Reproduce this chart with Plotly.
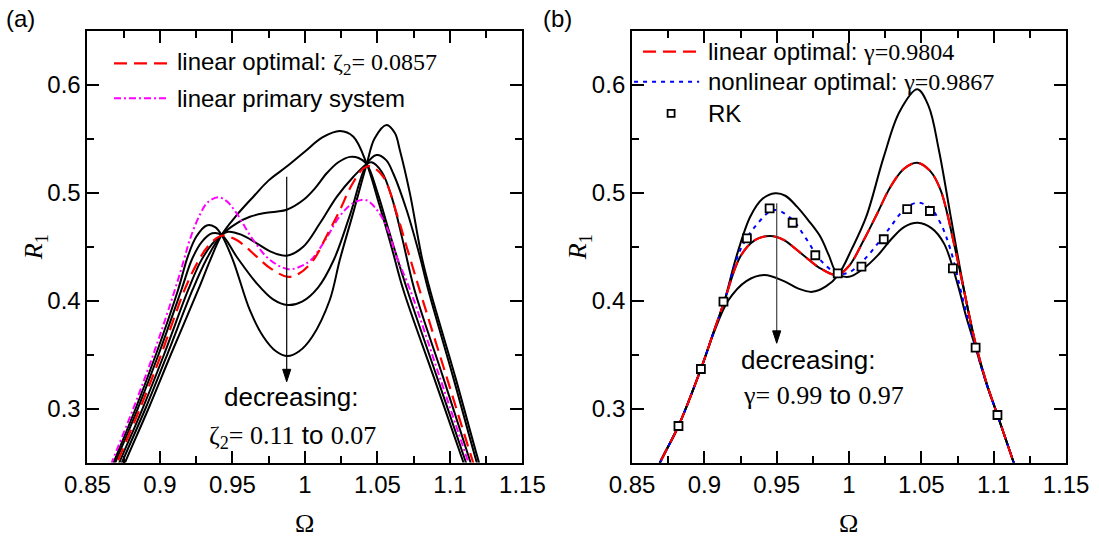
import plotly.graph_objects as go

# ---------------- panel (a): R1 vs Omega for several damping ratios ----------------
# zeta2 = 0.11
A1_X = [0.8714, 0.8759, 0.8921, 0.9075, 0.9264, 0.9345, 0.9425, 0.9529, 0.9650, 0.9748, 0.9874, 1.0000,
        1.0120, 1.0241, 1.0334, 1.0426, 1.0510, 1.0600, 1.0678, 1.0886, 1.1093, 1.1130]
A1_Y = [0.235, 0.250, 0.300, 0.350, 0.410, 0.437, 0.4607, 0.479, 0.497, 0.511, 0.524, 0.538,
        0.551, 0.557, 0.5517, 0.5264, 0.490, 0.448, 0.410, 0.330, 0.250, 0.235]
# zeta2 = 0.10
A2_X = [0.8693, 0.8738, 0.8900, 0.9050, 0.9225, 0.9320, 0.9425, 0.9529, 0.9620, 0.9713, 0.9800, 0.9874,
        0.9988, 1.0070, 1.0150, 1.0230, 1.0310, 1.0370, 1.0426, 1.0500, 1.0580, 1.0705, 1.0908, 1.1110, 1.1147]
A2_Y = [0.235, 0.250, 0.300, 0.350, 0.410, 0.438, 0.4607, 0.4715, 0.4775, 0.4807, 0.4822, 0.4840,
        0.4930, 0.5040, 0.5178, 0.5280, 0.5330, 0.5320, 0.5264, 0.5000, 0.4640, 0.410, 0.330, 0.250, 0.235]
# zeta2 = 0.09
A3_X = [0.8675, 0.8720, 0.8880, 0.9028, 0.9195, 0.9280, 0.9360, 0.9425, 0.9470, 0.9560, 0.9667, 0.9760,
        0.9874, 0.9988, 1.0103, 1.0219, 1.0334, 1.0426, 1.0460, 1.0530, 1.0600, 1.0670, 1.0755, 1.0950,
        1.1142, 1.1179]
A3_Y = [0.235, 0.250, 0.300, 0.350, 0.410, 0.436, 0.4525, 0.4607, 0.4637, 0.4610, 0.4530, 0.4455,
        0.4415, 0.4498, 0.4715, 0.4960, 0.5146, 0.5264, 0.5280, 0.5190, 0.4950, 0.4580, 0.410, 0.330,
        0.250, 0.235]
# zeta2 = 0.08
A4_X = [0.8647, 0.8692, 0.8847, 0.8990, 0.9148, 0.9220, 0.9290, 0.9360, 0.9425, 0.9529, 0.9667, 0.9780,
        0.9880, 0.9980, 1.0090, 1.0200, 1.0310, 1.0426, 1.0494, 1.0560, 1.0609, 1.0701, 1.0793, 1.0850,
        1.1020, 1.1185, 1.1220]
A4_Y = [0.235, 0.250, 0.300, 0.350, 0.410, 0.438, 0.4545, 0.4622, 0.4607, 0.4405, 0.4159, 0.4010,
        0.3958, 0.3990, 0.4120, 0.4380, 0.4790, 0.5264, 0.5347, 0.5300, 0.5176, 0.4838, 0.4406, 0.410,
        0.330, 0.250, 0.235]
# zeta2 = 0.07
A5_X = [0.8635, 0.8680, 0.8832, 0.8972, 0.9125, 0.9190, 0.9250, 0.9322, 0.9380, 0.9425, 0.9503, 0.9620,
        0.9713, 0.9800, 0.9880, 0.9960, 1.0050, 1.0171, 1.0240, 1.0330, 1.0426, 1.0480, 1.0563, 1.0620,
        1.0655, 1.0724, 1.0805, 1.0862, 1.1035, 1.1200, 1.1235]
A5_Y = [0.235, 0.250, 0.300, 0.350, 0.410, 0.440, 0.459, 0.4695, 0.468, 0.4607, 0.4375, 0.3910,
        0.3665, 0.3530, 0.3486, 0.3530, 0.3665, 0.4005, 0.4375, 0.4800, 0.5264, 0.5500, 0.5625, 0.5550,
        0.5390, 0.4990, 0.4406, 0.410, 0.330, 0.250, 0.235]
# linear optimal, zeta2 = 0.0857
A_OPT_X = [0.8660, 0.8705, 0.8862, 0.9008, 0.9170, 0.9250, 0.9330, 0.9425, 0.9529, 0.9667, 0.9760, 0.9880,
           0.9960, 1.0058, 1.0150, 1.0241, 1.0316, 1.0400, 1.0448, 1.0540, 1.0632, 1.0701, 1.0790, 1.0975,
           1.1160, 1.1197]
A_OPT_Y = [0.235, 0.250, 0.300, 0.350, 0.410, 0.433, 0.4500, 0.4600, 0.4560, 0.4406, 0.4300, 0.4220,
           0.4250, 0.4375, 0.4600, 0.4838, 0.5053, 0.5220, 0.5245, 0.5146, 0.4807, 0.4498, 0.410, 0.330,
           0.250, 0.235]
# linear primary system
A_LIN_X = [0.8622, 0.8667, 0.8816, 0.8954, 0.9103, 0.9165, 0.9205, 0.9270, 0.9330, 0.9402, 0.9460, 0.9529,
           0.9643, 0.9759, 0.9885, 0.9960, 1.0041, 1.0140, 1.0237, 1.0330, 1.0417, 1.0490, 1.0563, 1.0632,
           1.0725, 1.0927, 1.1127, 1.1164]
A_LIN_Y = [0.235, 0.250, 0.300, 0.350, 0.410, 0.4375, 0.4560, 0.4780, 0.4910, 0.4956, 0.4920, 0.4807,
           0.4560, 0.4375, 0.4290, 0.4310, 0.4375, 0.4560, 0.4776, 0.4900, 0.4931, 0.4850, 0.4683, 0.4406,
           0.410, 0.330, 0.250, 0.235]

# ---------------- panel (b): R1 vs Omega for several tuning ratios ----------------
# gamma = 0.99
B1_X = [0.8650, 0.8694, 0.8821, 0.8976, 0.9062, 0.9137, 0.9220, 0.9317, 0.9400, 0.9490, 0.9560, 0.9640,
        0.9720, 0.9802, 0.9860, 0.9917, 1.0000, 1.0102, 1.0200, 1.0287, 1.0380, 1.0476, 1.0570, 1.0656,
        1.0749, 1.0810, 1.0875, 1.0950, 1.1026, 1.1138, 1.1176]
B1_Y = [0.235, 0.250, 0.2838, 0.3366, 0.370, 0.3989, 0.440, 0.4776, 0.4940, 0.4993, 0.4970, 0.4869,
        0.4740, 0.4590, 0.4420, 0.4252, 0.4220, 0.4298, 0.4420, 0.4560, 0.4680, 0.4720, 0.4670, 0.4529,
        0.4159, 0.3850, 0.3563, 0.3230, 0.2940, 0.250, 0.235]
# gamma = 0.98
B2_X = [0.8650, 0.8694, 0.8821, 0.8976, 0.9062, 0.9137, 0.9248, 0.9350, 0.9456, 0.9550, 0.9640, 0.9720,
        0.9802, 0.9917, 1.0000, 1.0102, 1.0200, 1.0287, 1.0380, 1.0471, 1.0560, 1.0633, 1.0725, 1.0794,
        1.0875, 1.0950, 1.1026, 1.1138, 1.1176]
B2_Y = [0.235, 0.250, 0.2838, 0.3366, 0.370, 0.3989, 0.4406, 0.4560, 0.4597, 0.4560, 0.4468, 0.4380,
        0.4298, 0.4236, 0.4320, 0.4560, 0.4820, 0.5054, 0.5220, 0.5276, 0.5200, 0.5023, 0.4529, 0.4097,
        0.3600, 0.3240, 0.2940, 0.250, 0.235]
# gamma = 0.97
B3_X = [0.8650, 0.8694, 0.8821, 0.8976, 0.9065, 0.9165, 0.9290, 0.9414, 0.9550, 0.9650, 0.9745, 0.9840,
        0.9925, 1.0020, 1.0119, 1.0240, 1.0350, 1.0472, 1.0550, 1.0621, 1.0700, 1.0760, 1.0818, 1.0875,
        1.0950, 1.1026, 1.1138, 1.1176]
B3_Y = [0.235, 0.250, 0.2838, 0.3366, 0.370, 0.400, 0.4180, 0.4236, 0.4180, 0.4110, 0.4080, 0.4130,
        0.4236, 0.4480, 0.4776, 0.5330, 0.5750, 0.5955, 0.5800, 0.5394, 0.4800, 0.4350, 0.3943, 0.3590,
        0.3230, 0.2940, 0.250, 0.235]
# linear optimal, gamma = 0.9804
B_LIN_X = B2_X
B_LIN_Y = B2_Y
# nonlinear optimal, gamma = 0.9867
B_NL_X = [0.8650, 0.8694, 0.8821, 0.8976, 0.9062, 0.9137, 0.9248, 0.9360, 0.9479, 0.9600, 0.9700, 0.9802,
          0.9922, 1.0000, 1.0102, 1.0200, 1.0287, 1.0380, 1.0471, 1.0560, 1.0633, 1.0702, 1.0794, 1.0875,
          1.0950, 1.1026, 1.1138, 1.1176]
B_NL_Y = [0.235, 0.250, 0.2838, 0.3366, 0.370, 0.3989, 0.4468, 0.4700, 0.4838, 0.4760, 0.4580, 0.4375,
          0.4250, 0.4260, 0.4375, 0.4530, 0.4683, 0.4840, 0.4906, 0.4860, 0.4714, 0.4468, 0.3974, 0.3563,
          0.3230, 0.2940, 0.250, 0.235]
# Runge-Kutta points
RK_X = [0.8821, 0.8976, 0.9132, 0.9294, 0.9451, 0.9610, 0.9767, 0.9922, 1.0086, 1.0240, 1.0402, 1.0559,
        1.0718, 1.0875, 1.1026]
RK_Y = [0.2838, 0.3366, 0.3989, 0.4576, 0.4854, 0.4720, 0.4419, 0.4252, 0.4313, 0.4567, 0.4847, 0.4829,
        0.4298, 0.3563, 0.2940]

SANS = "Liberation Sans, Arial, sans-serif"
SERIF = "Liberation Serif, Times New Roman, serif"
RED = "#ff0000"
MAGENTA = "#ff00ff"
BLUE = "#0000ff"

fig = go.Figure()


def curve(x, y, axis, color="black", dash="solid", width=2.0):
    xa, ya = ("x", "y") if axis == 1 else ("x2", "y2")
    fig.add_trace(go.Scatter(x=x, y=y, xaxis=xa, yaxis=ya, mode="lines",
                             line=dict(color=color, width=width, dash=dash, shape="spline", smoothing=1.0),
                             showlegend=False, hoverinfo="skip"))


for xs, ys in [(A1_X, A1_Y), (A2_X, A2_Y), (A3_X, A3_Y), (A4_X, A4_Y), (A5_X, A5_Y)]:
    curve(xs, ys, 1)
curve(A_LIN_X, A_LIN_Y, 1, MAGENTA, "7px,3px,2px,3px", 2.0)
curve(A_OPT_X, A_OPT_Y, 1, RED, "13px,7px", 2.2)

for xs, ys in [(B1_X, B1_Y), (B2_X, B2_Y), (B3_X, B3_Y)]:
    curve(xs, ys, 2)
curve(B_NL_X, B_NL_Y, 2, BLUE, "4px,5px", 2.0)
curve(B_LIN_X, B_LIN_Y, 2, RED, "13px,7px", 2.2)
fig.add_trace(go.Scatter(x=RK_X, y=RK_Y, xaxis="x2", yaxis="y2", mode="markers",
                         marker=dict(symbol="square", size=8, color="white",
                                     line=dict(color="black", width=1.8)),
                         showlegend=False, hoverinfo="skip"))

axis_common = dict(showline=True, linewidth=2, linecolor="black", mirror="ticks", ticks="inside",
                   ticklen=12, tickwidth=2, tickcolor="black", showgrid=False, zeroline=False,
                   automargin=False,
                   tickfont=dict(family=SANS, size=24, color="black"), fixedrange=True)
xcommon = dict(axis_common, range=[0.85, 1.15], tick0=0.85, dtick=0.05,
               minor=dict(ticks="inside", ticklen=7, tickwidth=2, tickcolor="black", dtick=0.025,
                          tick0=0.85, showgrid=False))
ycommon = dict(axis_common, range=[0.25, 0.65], tick0=0.3, dtick=0.1,
               minor=dict(ticks="inside", ticklen=7, tickwidth=2, tickcolor="black", dtick=0.05,
                          tick0=0.25, showgrid=False))

fig.update_layout(
    template="none",
    width=1099, height=540,
    margin=dict(l=0, r=0, t=0, b=0, autoexpand=False),
    paper_bgcolor="white", plot_bgcolor="white",
    xaxis=dict(xcommon, domain=[0.0796, 0.4754], anchor="y"),
    yaxis=dict(ycommon, domain=[0.1435, 0.9435], anchor="x"),
    xaxis2=dict(xcommon, domain=[0.5751, 0.9700], anchor="y2"),
    yaxis2=dict(ycommon, domain=[0.1435, 0.9435], anchor="x2"),
)

ann = []
shapes = []


def text(x, y, s, xref, yref, size=24, family=SANS, xanchor="left", yanchor="middle", angle=0):
    ann.append(dict(x=x, y=y, xref=xref, yref=yref, text=s, showarrow=False, xanchor=xanchor,
                    yanchor=yanchor, textangle=angle,
                    font=dict(family=family, size=size, color="black")))


def serif(s):
    return '<span style="font-family:Liberation Serif">' + s + "</span>"


def down_arrow(xref, yref, x, y_top, y_tip, shaft_color, head_len, half_w):
    # thin vertical shaft ending in a narrow filled head
    shapes.append(dict(type="line", xref=xref, yref=yref, x0=x, x1=x, y0=y_top, y1=y_tip + head_len * 0.6,
                       line=dict(color=shaft_color, width=1.2)))
    shapes.append(dict(type="path", xref=xref, yref=yref,
                       path=f"M {x - half_w},{y_tip + head_len} L {x + half_w},{y_tip + head_len} L {x},{y_tip} Z",
                       fillcolor="black", line=dict(color="black", width=1)))


# panel labels and axis titles
text(0.019, 0.965, "(a)", "paper", "paper", 24, xanchor="center")
text(0.507, 0.965, "(b)", "paper", "paper", 24, xanchor="center")
text(0.2775, 0.03, "Ω", "paper", "paper", 26, SERIF, xanchor="center")
text(0.7725, 0.03, "Ω", "paper", "paper", 26, SERIF, xanchor="center")
text(0.032, 0.5426, "<i>R</i><sub>1</sub>", "paper", "paper", 26, SERIF, xanchor="center", angle=-90)
text(0.527, 0.5426, "<i>R</i><sub>1</sub>", "paper", "paper", 26, SERIF, xanchor="center", angle=-90)

# legend of panel (a)
shapes.append(dict(type="line", xref="x", yref="y", x0=0.8683, x1=0.9055, y0=0.6196, y1=0.6196,
                   line=dict(color=RED, width=2.2, dash="13px,7px")))
shapes.append(dict(type="line", xref="x", yref="y", x0=0.8683, x1=0.9055, y0=0.5872, y1=0.5872,
                   line=dict(color=MAGENTA, width=2.0, dash="7px,3px,2px,3px")))
text(0.9106, 0.6196, "linear optimal: " + serif("ζ<sub>2</sub>= 0.0857"), "x", "y", 24)
text(0.9106, 0.5872, "linear primary system", "x", "y", 24)

# legend of panel (b)
shapes.append(dict(type="line", xref="x2", yref="y2", x0=0.8576, x1=0.8964, y0=0.6304, y1=0.6304,
                   line=dict(color=RED, width=2.2, dash="13px,7px")))
shapes.append(dict(type="line", xref="x2", yref="y2", x0=0.8514, x1=0.8964, y0=0.6026, y1=0.6026,
                   line=dict(color=BLUE, width=2.0, dash="4px,5px")))
shapes.append(dict(type="rect", xref="x2", yref="y2", xsizemode="pixel", ysizemode="pixel",
                   xanchor=0.877, yanchor=0.5733, x0=-3.5, x1=3.5, y0=-3.5, y1=3.5,
                   line=dict(color="black", width=1.8), fillcolor="white"))
text(0.9012, 0.6304, "linear optimal: " + serif("γ=0.9804"), "x2", "y2", 24)
text(0.9012, 0.6026, "nonlinear optimal: " + serif("γ=0.9867"), "x2", "y2", 24)
text(0.9012, 0.5733, "RK", "x2", "y2", 24)

# arrows and notes
down_arrow("x", "y", 0.9874, 0.5146, 0.3248, "black", 0.0115, 0.0028)
down_arrow("x2", "y2", 0.9500, 0.4900, 0.3604, "#444444", 0.0115, 0.0028)
text(0.9905, 0.3104, "decreasing:", "x", "y", 26, xanchor="center")
text(0.9917, 0.2745, serif("ζ<sub>2</sub>= 0.11") + " to " + serif("0.07"), "x", "y", 26, xanchor="center")
text(0.9715, 0.3449, "decreasing:", "x2", "y2", 26, xanchor="center")
text(0.9825, 0.3125, serif("γ= 0.99") + " to " + serif("0.97"), "x2", "y2", 26, xanchor="center")

fig.update_layout(annotations=ann, shapes=shapes)
fig.write_html("out.html")
